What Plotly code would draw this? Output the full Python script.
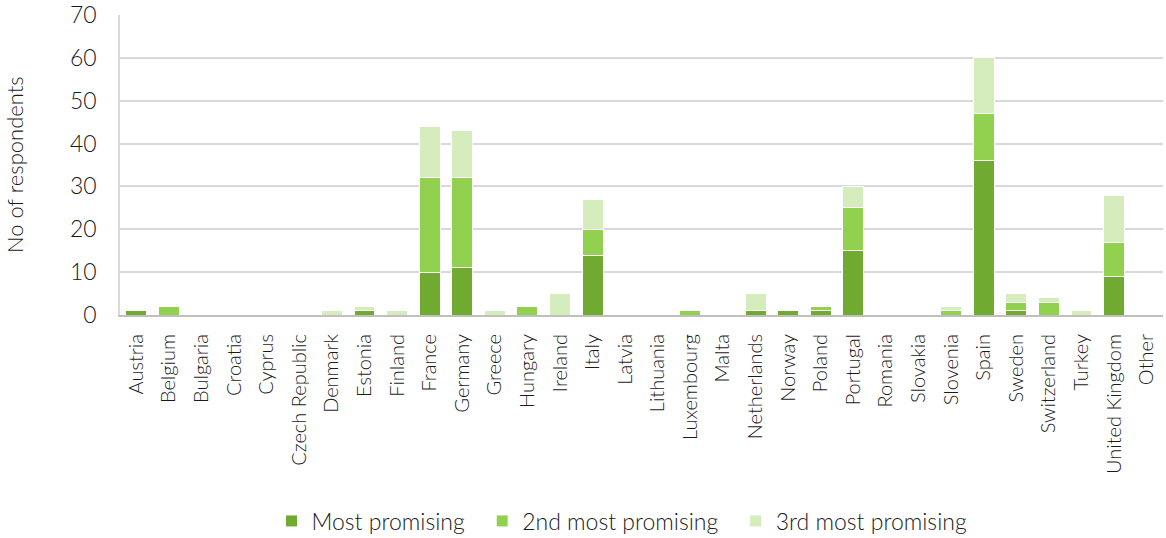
import plotly.graph_objects as go

countries = ["Austria", "Belgium", "Bulgaria", "Croatia", "Cyprus", "Czech Republic", "Denmark",
             "Estonia", "Finland", "France", "Germany", "Greece", "Hungary", "Ireland", "Italy",
             "Latvia", "Lithuania", "Luxembourg", "Malta", "Netherlands", "Norway", "Poland",
             "Portugal", "Romania", "Slovakia", "Slovenia", "Spain", "Sweden", "Switzerland",
             "Turkey", "United Kingdom", "Other"]
most = [1, 0, 0, 0, 0, 0, 0, 1, 0, 10, 11, 0, 0, 0, 14, 0, 0, 0, 0, 1, 1, 1, 15, 0, 0, 0, 36, 1, 0, 0, 9, 0]
second = [0, 2, 0, 0, 0, 0, 0, 0, 0, 22, 21, 0, 2, 0, 6, 0, 0, 1, 0, 0, 0, 1, 10, 0, 0, 1, 11, 2, 3, 0, 8, 0]
third = [0, 0, 0, 0, 0, 0, 1, 1, 1, 12, 11, 1, 0, 5, 7, 0, 0, 0, 0, 4, 0, 0, 5, 0, 0, 1, 13, 2, 1, 1, 11, 0]

series = [("Most promising", most, "#70AA30"),
          ("2nd most promising", second, "#92D050"),
          ("3rd most promising", third, "#D5ECBC")]

fig = go.Figure()
for i, (name, vals, col) in enumerate(series):
    pad = "\u00a0" * 2 if i < len(series) - 1 else ""
    fig.add_trace(go.Bar(x=countries, y=vals, name=name + pad, marker_color=col,
                         marker_line_color="white", marker_line_width=1))

font = "Lato, 'Noto Sans', sans-serif"
L, R, T, B = 120, 3, 15, 223
FW, FH = 1166, 538
W = FW - L - R
fig.update_layout(
    barmode="stack", bargap=0.36,
    width=FW, height=FH,
    margin=dict(l=L, r=R, t=T, b=B, autoexpand=False),
    plot_bgcolor="white", paper_bgcolor="white",
    font=dict(family=font, size=20, color="#1a1a1a", weight=300),
    showlegend=True,
    legend=dict(orientation="h", x=(622 - L) / W, xanchor="center", yref="container", y=1 - 521 / FH,
                yanchor="middle", font=dict(size=23, weight=300), traceorder="normal", itemwidth=30),
    yaxis=dict(range=[0, 70], dtick=10, showgrid=True, gridcolor="#D9D9D9", gridwidth=1.5,
               showline=True, linecolor="#D9D9D9", linewidth=1.5, ticks="", zeroline=False,
               automargin=False, ticklabelstandoff=17,
               tickfont=dict(size=23, weight=300)),
    xaxis=dict(showline=True, linecolor="#BFBFBF", linewidth=2, tickangle=-90,
               ticks="", automargin=False, ticklabelstandoff=9,
               tickfont=dict(size=20, weight=300)),
    annotations=[dict(text="No of respondents", textangle=-90, xref="paper", yref="paper",
                      x=-(120 - 14) / W, y=0.5, xanchor="center", yanchor="middle",
                      showarrow=False, font=dict(size=22, weight=300))],
)
fig.write_html("out.html", config={"displayModeBar": False},
               post_script="document.body.style.margin='0';document.body.style.padding='0';")
